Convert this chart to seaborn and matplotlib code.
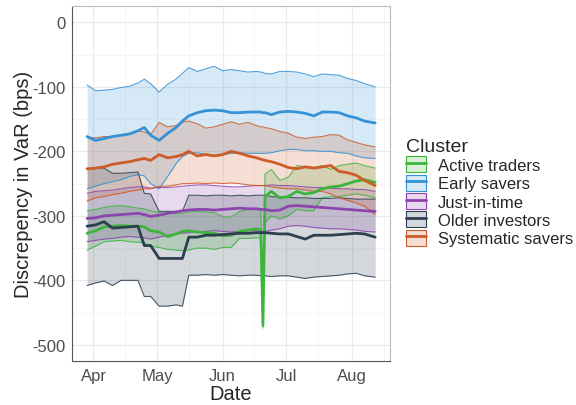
import pandas as pd
import seaborn as sns
import matplotlib.pyplot as plt
import matplotlib.dates as mdates
from matplotlib.patches import Patch
from matplotlib.lines import Line2D
from matplotlib.colors import to_rgba

# dates shared by every cluster
dates = ["2022-03-29", "2022-04-02", "2022-04-06", "2022-04-10", "2022-04-14", "2022-04-18",
         "2022-04-22", "2022-04-25", "2022-04-28", "2022-05-02", "2022-05-06", "2022-05-10",
         "2022-05-13", "2022-05-16", "2022-05-20", "2022-05-24", "2022-05-28", "2022-06-01",
         "2022-06-05", "2022-06-09", "2022-06-13", "2022-06-17", "2022-06-19", "2022-06-20",
         "2022-06-21", "2022-06-24", "2022-06-28", "2022-07-02", "2022-07-06", "2022-07-10",
         "2022-07-14", "2022-07-18", "2022-07-22", "2022-07-26", "2022-07-30", "2022-08-03",
         "2022-08-07", "2022-08-12"]

clusters = ["Active traders", "Early savers", "Just-in-time", "Older investors", "Systematic savers"]
colors = ["#3DB53D", "#3592D6", "#8E44AD", "#2C3E50", "#CD5C28"]

act_hi = [-292, -290, -287, -285, -284, -286, -288, -289, -292, -295, -296, -297, -296, -294, -293, -294, -295, -301,
          -302, -293, -290, -290, -292, -440, -235, -228, -245, -240, -222, -224, -225, -222, -228, -222, -220, -218, -222, -226]
act_mid = [-327, -323, -317, -316, -315, -316, -316, -317, -323, -325, -332, -328, -324, -323, -325, -326, -327, -331,
           -330, -324, -322, -320, -322, -470, -270, -262, -272, -270, -262, -266, -264, -258, -255, -254, -250, -246, -244, -248]
act_lo = [-353, -347, -340, -339, -338, -340, -341, -342, -347, -349, -352, -353, -354, -353, -350, -350, -352, -349,
          -349, -335, -335, -334, -335, -474, -310, -300, -305, -300, -290, -292, -292, -272, -270, -270, -268, -266, -268, -272]

early_hi = [-97, -106, -105, -104, -101, -99, -94, -88, -95, -108, -96, -88, -79, -70, -76, -72, -68, -75,
            -73, -75, -77, -76, -77, -78, -79, -80, -76, -76, -77, -80, -84, -80, -81, -82, -87, -90, -95, -100]
early_mid = [-177, -183, -180, -177, -175, -173, -168, -163, -175, -183, -172, -163, -153, -145, -140, -137, -136, -137,
             -140, -140, -139, -139, -139, -140, -140, -143, -139, -138, -139, -141, -145, -139, -139, -140, -145, -148, -153, -156]
early_lo = [-258, -254, -250, -247, -244, -239, -236, -238, -250, -258, -239, -219, -208, -203, -202, -205, -207, -205,
            -203, -202, -203, -203, -203, -203, -203, -202, -199, -197, -197, -199, -199, -200, -200, -202, -203, -207, -210, -211]

jit_hi = [-265, -262, -261, -260, -258, -256, -255, -255, -257, -256, -256, -255, -254, -253, -252, -252, -253, -254,
          -255, -255, -254, -253, -253, -253, -253, -252, -253, -253, -254, -255, -256, -256, -257, -258, -258, -259, -259, -262]
jit_mid = [-304, -303, -300, -299, -298, -297, -296, -298, -301, -299, -296, -294, -292, -291, -290, -290, -291, -290,
           -289, -288, -289, -289, -290, -290, -290, -292, -291, -285, -284, -285, -286, -287, -288, -289, -290, -291, -292, -293]
jit_lo = [-340, -338, -336, -335, -333, -332, -333, -334, -336, -333, -330, -328, -327, -326, -325, -324, -323, -324,
          -325, -324, -323, -323, -324, -324, -324, -322, -320, -316, -315, -316, -318, -319, -320, -320, -321, -322, -324, -325]

old_hi = [-227, -226, -226, -234, -234, -233, -232, -265, -266, -293, -293, -293, -293, -268, -268, -269, -268, -268,
          -269, -268, -269, -268, -268, -268, -268, -270, -271, -271, -272, -272, -273, -273, -273, -272, -273, -274, -274, -274]
old_mid = [-316, -314, -309, -319, -318, -317, -316, -346, -346, -366, -366, -366, -366, -333, -333, -330, -330, -329,
           -328, -327, -327, -326, -326, -326, -326, -327, -328, -328, -332, -336, -330, -330, -330, -329, -328, -327, -328, -333]
old_lo = [-408, -404, -401, -408, -400, -400, -400, -425, -425, -440, -440, -438, -440, -392, -392, -391, -392, -391,
          -392, -393, -392, -392, -393, -393, -393, -394, -393, -393, -395, -397, -395, -394, -393, -392, -390, -389, -393, -395]

sys_hi = [-178, -179, -177, -177, -175, -172, -168, -170, -174, -155, -162, -160, -155, -153, -157, -164, -162, -158,
          -154, -158, -155, -160, -162, -162, -163, -165, -169, -172, -178, -180, -178, -177, -174, -175, -182, -186, -190, -193]
sys_mid = [-227, -226, -224, -220, -218, -216, -213, -211, -214, -205, -210, -208, -205, -200, -207, -205, -207, -205,
           -200, -203, -207, -210, -212, -213, -214, -216, -220, -225, -227, -224, -226, -224, -222, -231, -233, -237, -245, -253]
sys_lo = [-277, -272, -270, -267, -265, -262, -260, -258, -258, -254, -254, -252, -250, -250, -249, -250, -249, -250,
          -249, -250, -252, -253, -253, -253, -253, -255, -257, -258, -258, -260, -262, -262, -266, -272, -276, -280, -285, -298]

lows = [act_lo, early_lo, jit_lo, old_lo, sys_lo]
mids = [act_mid, early_mid, jit_mid, old_mid, sys_mid]
highs = [act_hi, early_hi, jit_hi, old_hi, sys_hi]

frames = []
for name, lo, mid, hi in zip(clusters, lows, mids, highs):
    frames.append(pd.DataFrame({"Date": pd.to_datetime(dates), "Cluster": name,
                                "lo": lo, "mid": mid, "hi": hi}))
df = pd.concat(frames, ignore_index=True)

sns.set_style("white")
plt.rcParams['font.family'] = ['Liberation Sans', 'DejaVu Sans']
plt.rcParams['axes.unicode_minus'] = False

fig = plt.figure(figsize=(5.76, 4.06), dpi=100)
ax = fig.add_axes([0.1255, 0.1084, 0.5516, 0.8737])

palette = dict(zip(clusters, colors))

# ribbons with thin outlines, one cluster at a time
for name in clusters:
    d = df[df["Cluster"] == name]
    ax.fill_between(d["Date"], d["lo"], d["hi"], color=palette[name], alpha=0.2, linewidth=0, zorder=2)
    sns.lineplot(data=d, x="Date", y="lo", color=palette[name], linewidth=0.8, alpha=0.85, ax=ax, zorder=3)
    sns.lineplot(data=d, x="Date", y="hi", color=palette[name], linewidth=0.8, alpha=0.85, ax=ax, zorder=3)

# median lines
sns.lineplot(data=df, x="Date", y="mid", hue="Cluster", palette=palette, linewidth=2.0,
             legend=False, ax=ax, zorder=4)

ax.set_xlim(pd.Timestamp("2022-03-22"), pd.Timestamp("2022-08-19"))
ax.set_ylim(-525, 25)
ax.set_yticks([-500, -400, -300, -200, -100, 0])
ax.set_yticks([-450, -350, -250, -150, -50], minor=True)
ax.xaxis.set_major_locator(mdates.MonthLocator())
ax.xaxis.set_minor_locator(mdates.MonthLocator(bymonthday=16))
ax.xaxis.set_major_formatter(mdates.DateFormatter('%b'))

ax.grid(which='major', color='#EBEBEB', linewidth=0.9, zorder=0)
ax.grid(which='minor', color='#F3F3F3', linewidth=0.5, zorder=0)
ax.set_axisbelow(True)
ax.tick_params(axis='both', which='major', labelsize=12, labelcolor='#4D4D4D',
               length=3, width=0.8, color='#333333', pad=2)
ax.tick_params(axis='both', which='minor', length=0)
for side in ['left', 'bottom']:
    ax.spines[side].set_color('#555555')
for side in ['top', 'right']:
    ax.spines[side].set_color('#BBBBBB')
for s in ax.spines.values():
    s.set_linewidth(0.8)

ax.set_xlabel('Date', fontsize=14.5, labelpad=1)
ax.set_ylabel('Discrepency in VaR (bps)', fontsize=14.5, labelpad=-1)

handles = [(Patch(facecolor=to_rgba(c, 0.2), edgecolor=c, linewidth=0.8),
            Line2D([], [], color=c, linewidth=2)) for c in colors]
leg = fig.legend(handles, clusters, title='Cluster', loc='upper left',
                 bbox_to_anchor=(0.694, 0.675), frameon=False, fontsize=12,
                 title_fontsize=14, handlelength=1.2, handleheight=1.1,
                 handletextpad=0.7, labelspacing=0.1, borderaxespad=0)
leg._legend_box.align = 'left'

fig.savefig('out.png', dpi=100)
